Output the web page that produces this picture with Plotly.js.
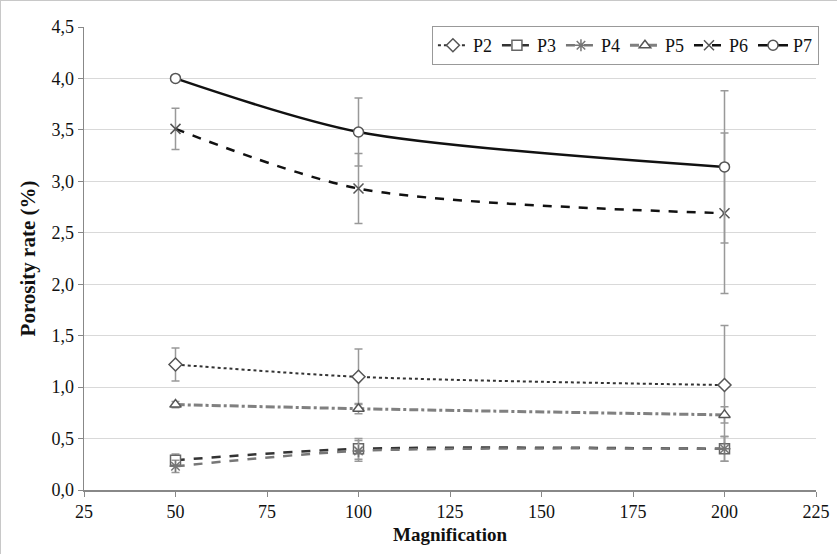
<!DOCTYPE html>
<html>
<head>
<meta charset="utf-8">
<script src="https://cdn.plot.ly/plotly-3.0.1.min.js"></script>
<style>
html,body{margin:0;padding:0;background:#fff;}
#chart{width:837px;height:554px;box-sizing:border-box;border:1px solid #c8c8c8;}
</style>
</head>
<body>
<div id="chart"></div>
<script>
const magnification = [50, 100, 200];
const seriesNames = ["P2", "P3", "P4", "P5", "P6", "P7"];
const p2 = [1.22, 1.10, 1.02];
const p3 = [0.29, 0.40, 0.40];
const p4 = [0.23, 0.38, 0.40];
const p5 = [0.83, 0.79, 0.73];
const p6 = [3.51, 2.93, 2.69];
const p7 = [4.00, 3.48, 3.14];
const p2err = [0.16, 0.27, 0.58];
const p3err = [0.06, 0.10, 0.12];
const p4err = [0.06, 0.10, 0.12];
const p5err = [0.03, 0.05, 0.08];
const p6err = [0.20, 0.34, 0.78];
const p7err = [0.00, 0.33, 0.74];
const xTicks = [25, 50, 75, 100, 125, 150, 175, 200, 225];

const values = [p2, p3, p4, p5, p6, p7];
const errs = [p2err, p3err, p4err, p5err, p6err, p7err];
const styles = [
  {color: "#333333", dash: "dot", width: 2, symbol: "diamond", mcolor: "#555555"},
  {color: "#333333", dash: "dash", width: 2.5, symbol: "square", mcolor: "#666666"},
  {color: "#777777", dash: "dash", width: 2.5, symbol: "asterisk-open", mcolor: "#777777"},
  {color: "#808080", dash: "dashdot", width: 3, symbol: "triangle-up", mcolor: "#555555"},
  {color: "#111111", dash: "dash", width: 2.5, symbol: "x-thin-open", mcolor: "#555555"},
  {color: "#111111", dash: "solid", width: 2.5, symbol: "circle", mcolor: "#555555"}
];

const FONT = "'Liberation Serif', 'Times New Roman', Times, serif";

const traces = seriesNames.map((name, i) => ({
  x: magnification,
  y: values[i],
  name: name,
  type: "scatter",
  mode: "lines+markers",
  line: {color: styles[i].color, dash: styles[i].dash, width: styles[i].width, shape: "spline", smoothing: 0.8},
  marker: {symbol: styles[i].symbol, size: 10, color: styles[i].symbol.endsWith("-open") ? styles[i].mcolor : "#ffffff", line: {width: 1.5, color: styles[i].mcolor}},
  error_y: {type: "data", array: errs[i], visible: true, color: "#999999", thickness: 1.5, width: 4}
}));

const layout = {
  width: 837,
  height: 554,
  margin: {l: 83, r: 22, t: 26, b: 65},
  paper_bgcolor: "#ffffff",
  plot_bgcolor: "#ffffff",
  separators: ", ",
  font: {family: FONT, size: 18, color: "#111111"},
  showlegend: true,
  legend: {
    orientation: "h",
    x: 1.004, xanchor: "right",
    y: 1.002, yanchor: "top",
    bordercolor: "#999999", borderwidth: 1,
    bgcolor: "#ffffff",
    font: {family: FONT, size: 18, color: "#111111"},
    itemwidth: 30,
    traceorder: "normal"
  },
  xaxis: {
    range: [25, 225],
    tickvals: xTicks,
    ticktext: xTicks.map(String),
    showgrid: false,
    zeroline: false,
    showline: true,
    linecolor: "#888888",
    linewidth: 1.5,
    ticks: "outside",
    ticklen: 5,
    tickcolor: "#888888",
    tickfont: {family: FONT, size: 18},
    title: {text: "<b>Magnification</b>", font: {family: FONT, size: 19}, standoff: 6}
  },
  yaxis: {
    range: [0, 4.5],
    dtick: 0.5,
    tick0: 0,
    tickformat: ".1f",
    showgrid: true,
    gridcolor: "#d9d9d9",
    gridwidth: 1,
    zeroline: false,
    showline: true,
    linecolor: "#888888",
    linewidth: 1.5,
    ticks: "outside",
    ticklen: 5,
    tickcolor: "#888888",
    tickfont: {family: FONT, size: 18},
    title: {text: "<b>Porosity rate (%)</b>", font: {family: FONT, size: 21}, standoff: 10}
  }
};

Plotly.newPlot("chart", traces, layout, {displayModeBar: false, staticPlot: true});
</script>
</body>
</html>
